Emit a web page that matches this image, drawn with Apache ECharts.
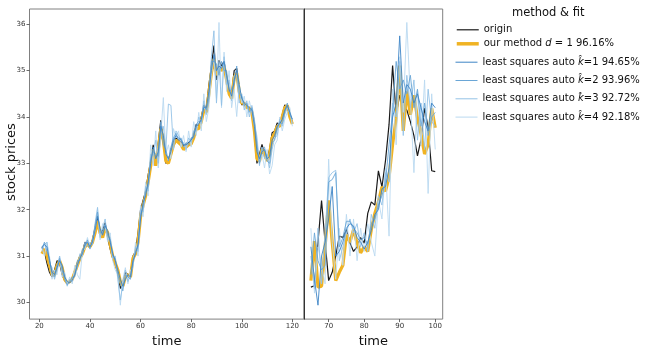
<!DOCTYPE html>
<html>
<head>
<meta charset="utf-8">
<script src="https://cdn.jsdelivr.net/npm/echarts@6/dist/echarts.min.js"></script>
<style>
  html, body { margin: 0; padding: 0; background: #fff; }
  #chart { width: 648px; height: 353px; }
</style>
</head>
<body>
<div id="chart"></div>
<script>
// time starts of the two panels (one value per time step)
const leftStart = 21;
const rightStart = 65;

const xTicksLeft = [20, 40, 60, 80, 100, 120];
const xTicksRight = [70, 80, 90, 100];
const yTicks = [30, 31, 32, 33, 34, 35, 36];

const seriesNames = ['origin', 'our method', 'ls1', 'ls2', 'ls3', 'ls4'];
const legendLabels = [
    'origin',
    'our method {i|d} = 1 96.16%',
    'least squares auto {i|k\u0302}=1 94.65%',
    'least squares auto {i|k\u0302}=2 93.96%',
    'least squares auto {i|k\u0302}=3 92.72%',
    'least squares auto {i|k\u0302}=4 92.18%'
];

// left panel, t = 21..120
const originLeft = [
    31.2, 31.1, 30.85, 30.65, 30.55, 30.7, 30.9, 30.85, 30.6, 30.47,
    30.45, 30.45, 30.5, 30.7, 30.85, 31.0, 31.05, 31.3, 31.25, 31.2,
    31.35, 31.6, 31.87, 31.5, 31.55, 31.72, 31.4, 31.15, 30.95, 30.8,
    30.65, 30.3, 30.45, 30.65, 30.6, 30.6, 31.0, 31.1, 31.5, 32.0,
    32.2, 32.4, 32.75, 33.05, 33.4, 32.95, 33.45, 33.93, 33.5, 33.0,
    33.05, 33.3, 33.45, 33.55, 33.5, 33.45, 33.38, 33.4, 33.45, 33.48,
    33.65, 33.84, 33.8, 34.0, 34.26, 34.2, 34.69, 35.1, 35.54, 34.8,
    35.22, 35.1, 35.2, 34.85, 34.47, 34.5, 35.0, 35.05, 34.6, 34.26,
    34.3, 34.2, 34.19, 34.15, 33.65, 33.0, 33.2, 33.41, 33.2, 33.1,
    33.3, 33.66, 33.7, 33.87, 33.85, 34.05, 34.26, 34.2, 33.98, 33.9
];
const oursLeft = [
    31.05, 31.15, 31.0, 30.8, 30.6, 30.6, 30.8, 30.9, 30.75, 30.5,
    30.42, 30.45, 30.5, 30.65, 30.8, 30.95, 31.05, 31.2, 31.25, 31.2,
    31.3, 31.5, 31.75, 31.5, 31.4, 31.6, 31.5, 31.25, 31.0, 30.85,
    30.7, 30.45, 30.35, 30.55, 30.6, 30.55, 30.95, 31.05, 31.3, 31.85,
    32.1, 32.3, 32.6, 32.95, 33.3, 32.95, 33.3, 33.75, 33.5, 33.05,
    33.0, 33.2, 33.4, 33.5, 33.45, 33.4, 33.3, 33.35, 33.4, 33.42,
    33.55, 33.75, 33.75, 33.9, 34.15, 34.1, 34.5, 34.95, 35.25, 34.9,
    35.05, 35.0, 35.1, 34.8, 34.5, 34.4, 34.85, 34.95, 34.55, 34.3,
    34.3, 34.2, 34.2, 34.1, 33.7, 33.1, 33.05, 33.3, 33.2, 33.05,
    33.2, 33.55, 33.65, 33.8, 33.8, 34.0, 34.2, 34.25, 34.0, 33.85
];
const ls1Left = [
    31.2, 31.25, 31.2, 30.9, 30.65, 30.6, 30.75, 30.9, 30.8, 30.55,
    30.45, 30.42, 30.48, 30.6, 30.8, 30.95, 31.05, 31.25, 31.3, 31.2,
    31.3, 31.55, 31.85, 31.6, 31.45, 31.65, 31.55, 31.3, 31.05, 30.9,
    30.7, 30.5, 30.35, 30.5, 30.6, 30.55, 30.9, 31.05, 31.25, 31.8,
    32.15, 32.3, 32.6, 33.0, 33.35, 33.1, 33.25, 33.8, 33.6, 33.2,
    33.1, 33.25, 33.5, 33.6, 33.55, 33.5, 33.4, 33.4, 33.45, 33.5,
    33.6, 33.8, 33.85, 33.95, 34.2, 34.2, 34.55, 35.0, 35.35, 35.0,
    35.1, 35.05, 35.2, 34.9, 34.6, 34.45, 34.8, 35.0, 34.7, 34.4,
    34.3, 34.25, 34.2, 34.15, 33.8, 33.25, 33.1, 33.25, 33.3, 33.1,
    33.15, 33.5, 33.6, 33.8, 33.85, 33.95, 34.15, 34.25, 34.1, 33.95
];
const ls2Left = [
    31.15, 31.3, 31.1, 30.95, 30.6, 30.55, 30.8, 30.95, 30.7, 30.5,
    30.38, 30.45, 30.55, 30.55, 30.9, 30.9, 31.15, 31.2, 31.35, 31.15,
    31.35, 31.65, 31.95, 31.5, 31.5, 31.7, 31.45, 31.35, 31.0, 30.95,
    30.6, 30.4, 30.25, 30.6, 30.55, 30.5, 30.85, 31.1, 31.2, 31.9,
    32.05, 32.4, 32.5, 33.1, 33.25, 33.2, 33.15, 33.9, 33.4, 33.3,
    33.05, 33.35, 33.55, 33.65, 33.5, 33.55, 33.35, 33.45, 33.4, 33.55,
    33.55, 33.85, 33.9, 33.9, 34.25, 34.15, 34.4, 35.2, 35.2, 35.15,
    34.9, 35.2, 35.0, 35.0, 34.55, 34.6, 34.7, 35.1, 34.5, 34.45,
    34.25, 34.3, 34.1, 34.2, 33.9, 33.4, 33.0, 33.3, 33.35, 33.05,
    33.0, 33.45, 33.5, 33.75, 33.9, 33.85, 34.1, 34.3, 34.05, 33.95
];
const ls3Left = [
    31.1, 31.25, 31.3, 30.85, 30.75, 30.5, 30.7, 31.0, 30.65, 30.6,
    30.35, 30.5, 30.45, 30.65, 30.75, 31.05, 31.0, 31.3, 31.2, 31.3,
    31.25, 31.7, 32.05, 31.4, 31.6, 31.8, 31.35, 31.4, 30.95, 31.0,
    30.5, 30.05, 30.4, 30.7, 30.45, 30.6, 30.8, 31.2, 31.1, 32.0,
    31.95, 32.5, 32.4, 33.2, 33.15, 33.5, 33.0, 33.7, 33.8, 33.3,
    34.28, 34.25, 33.3, 33.7, 33.6, 33.5, 33.45, 33.3, 33.55, 33.45,
    33.7, 33.7, 34.0, 33.85, 34.35, 34.05, 34.35, 35.3, 35.86, 34.3,
    35.2, 34.25, 35.3, 34.7, 34.8, 34.35, 34.9, 34.9, 34.3, 34.5,
    34.15, 34.35, 34.0, 34.25, 33.95, 33.5, 32.95, 33.35, 33.1, 33.2,
    32.9, 33.3, 33.55, 33.6, 33.95, 33.8, 34.05, 34.2, 34.1, 33.85
];
const ls4Left = [
    31.2, 31.0, 31.3, 31.0, 30.5, 30.7, 30.6, 31.0, 30.55, 30.65,
    30.4, 30.55, 30.4, 30.8, 30.6, 30.5, 31.1, 31.15, 31.4, 31.2,
    31.3, 31.55, 32.0, 31.35, 31.7, 31.65, 31.3, 31.5, 30.9, 30.7,
    30.6, 29.94, 30.5, 30.75, 30.4, 30.7, 30.75, 31.3, 31.0, 32.1,
    31.85, 32.6, 32.3, 33.4, 32.95, 33.7, 32.9, 33.6, 34.42, 33.2,
    33.4, 33.1, 33.75, 33.55, 33.7, 33.35, 33.6, 33.25, 33.7, 33.35,
    33.9, 33.6, 34.1, 33.7, 34.5, 33.9, 34.2, 34.9, 35.3, 34.4,
    36.04, 34.2, 35.4, 34.55, 35.0, 34.2, 34.6, 34.01, 34.7, 34.3,
    34.45, 34.0, 34.35, 34.1, 33.8, 33.6, 33.0, 33.2, 32.9, 33.3,
    32.77, 32.95, 33.4, 33.5, 34.0, 33.7, 33.95, 34.1, 34.2, 33.8
];

// right panel, t = 65..100
const originRight = [
    30.33, 30.36, 31.3, 32.2, 31.3, 30.47, 30.65, 31.0, 31.43, 31.4,
    31.57, 31.28, 31.1, 31.2, 31.4, 31.28, 31.92, 32.17, 32.1, 32.84,
    32.49, 33.06, 33.84, 35.11, 34.05, 34.47, 34.26, 34.15, 33.9, 33.6,
    33.16, 33.52, 34.19, 33.77, 32.84, 32.82
];
const oursRight = [
    30.47, 31.32, 30.33, 30.35, 31.2, 32.2, 31.3, 30.47, 30.65, 30.8,
    31.46, 31.3, 31.57, 31.28, 31.07, 31.2, 31.1, 31.57, 31.92, 32.17,
    32.49, 32.4, 32.7, 33.41, 33.97, 35.11, 33.7, 34.55, 34.05, 34.47,
    33.98, 33.63, 33.2, 33.41, 34.19, 33.77
];
const ls1Right = [
    31.2, 30.5, 29.94, 31.0, 31.3, 31.8, 32.5, 31.0, 31.1, 31.3,
    31.6, 31.7, 31.65, 31.4, 31.3, 31.15, 31.3, 31.55, 31.9, 32.0,
    32.45, 32.5, 32.9, 34.0, 34.3, 35.75, 34.3, 34.7, 34.6, 34.3,
    34.5, 34.2, 33.9, 33.7, 34.3, 34.2
];
const ls2Right = [
    30.6, 31.5, 30.9, 30.7, 30.8, 32.6, 32.65, 32.8, 31.2, 31.4,
    31.75, 31.75, 31.6, 31.5, 31.35, 31.4, 31.25, 31.7, 31.8, 32.1,
    32.3, 32.6, 33.4, 34.1, 35.2, 34.6, 34.8, 34.5, 34.9, 34.2,
    34.6, 33.8, 34.3, 33.6, 34.0, 34.1
];
const ls3Right = [
    31.0, 30.3, 31.6, 30.4, 31.5, 32.7, 32.8, 32.85, 30.9, 31.2,
    31.5, 31.8, 31.5, 31.7, 31.2, 31.5, 31.1, 31.9, 31.6, 32.3,
    32.1, 32.8, 32.6, 34.3, 34.0, 35.2, 33.6, 34.9, 34.2, 34.8,
    33.5, 34.3, 33.3, 34.6, 33.9, 33.8
];
const ls4Right = [
    31.6, 30.2, 31.2, 30.8, 30.4, 33.09, 31.3, 30.5, 31.6, 30.8,
    31.9, 31.0, 31.8, 30.9, 31.6, 31.1, 31.7, 31.3, 31.0, 32.2,
    31.8, 32.9, 31.43, 34.6, 33.4, 35.3, 34.1, 36.04, 34.4, 32.8,
    34.6, 33.4, 34.8, 32.35, 34.5, 33.3
];

const leftData = [originLeft, oursLeft, ls1Left, ls2Left, ls3Left, ls4Left];
const rightData = [originRight, oursRight, ls1Right, ls2Right, ls3Right, ls4Right];

const styles = [
    { color: '#1a1a1a', width: 1.2, legendWidth: 1.2, z: 2 },
    { color: '#f0b323', width: 3.2, legendWidth: 3.5, z: 3 },
    { color: '#3d85c6', width: 0.9, legendWidth: 1, z: 7 },
    { color: '#6aa6d6', width: 0.9, legendWidth: 1, z: 6 },
    { color: '#93c2e6', width: 0.9, legendWidth: 1, z: 5 },
    { color: '#bad9f0', width: 0.9, legendWidth: 1, z: 4 }
];

function pairs(start, values) {
    return values.map((v, i) => [start + i, v]);
}

var chart = echarts.init(document.getElementById('chart'));

var series = [];
seriesNames.forEach((name, k) => {
    [[0, leftStart, leftData[k]], [1, rightStart, rightData[k]]].forEach(p => {
        series.push({
            name: name,
            type: 'line',
            xAxisIndex: p[0],
            yAxisIndex: p[0],
            data: pairs(p[1], p[2]),
            showSymbol: false,
            symbol: 'none',
            animation: false,
            z: styles[k].z,
            color: styles[k].color,
            lineStyle: { color: styles[k].color, width: styles[k].width }
        });
    });
});

var font = 'DejaVu Sans';
var tickLabel = { fontSize: 7, color: '#333', fontFamily: font, margin: 4 };
var tick = { show: true, length: 3, lineStyle: { color: '#444', width: 0.8 } };

var legendText = {
    fontSize: 10,
    fontFamily: font,
    color: '#111',
    lineHeight: 14,
    rich: { i: { fontStyle: 'italic', fontSize: 10, fontFamily: font, color: '#111', lineHeight: 14 } }
};
function legendFormatter(name) {
    return legendLabels[seriesNames.indexOf(name)];
}
function legendItems(from, to) {
    return seriesNames.slice(from, to).map((name, i) => ({
        name: name,
        lineStyle: { width: styles[from + i].legendWidth, color: styles[from + i].color }
    }));
}

var option = {
    backgroundColor: '#fff',
    animation: false,
    grid: [
        { left: 29.5, top: 9, width: 274.5, height: 315, show: true, borderColor: '#808080', borderWidth: 1 },
        { left: 304, top: 9, width: 138.7, height: 315, show: true, borderColor: '#808080', borderWidth: 1 }
    ],
    xAxis: [
        {
            type: 'value', gridIndex: 0, min: 16.1, max: 124.6,
            axisLine: { show: false }, splitLine: { show: false },
            axisTick: Object.assign({ customValues: xTicksLeft }, tick),
            axisLabel: Object.assign({ customValues: xTicksLeft }, tickLabel),
            name: 'time', nameLocation: 'middle', nameGap: 11,
            nameTextStyle: { fontSize: 13, fontFamily: font, color: '#111' }
        },
        {
            type: 'value', gridIndex: 1, min: 63.06, max: 102.1,
            axisLine: { show: false }, splitLine: { show: false },
            axisTick: Object.assign({ customValues: xTicksRight }, tick),
            axisLabel: Object.assign({ customValues: xTicksRight }, tickLabel),
            name: 'time', nameLocation: 'middle', nameGap: 11,
            nameTextStyle: { fontSize: 13, fontFamily: font, color: '#111' }
        }
    ],
    yAxis: [
        {
            type: 'value', gridIndex: 0, min: 29.64, max: 36.33,
            axisLine: { show: false }, splitLine: { show: false },
            axisTick: Object.assign({ customValues: yTicks }, tick),
            axisLabel: Object.assign({ customValues: yTicks }, tickLabel)
        },
        {
            type: 'value', gridIndex: 1, min: 29.64, max: 36.33,
            axisLine: { show: true, lineStyle: { color: '#333', width: 1 } },
            splitLine: { show: false }, axisTick: { show: false }, axisLabel: { show: false }
        }
    ],
    legend: [
        {
            orient: 'vertical', left: 455, top: 22.8, padding: 0, itemWidth: 22, itemHeight: 14, itemGap: 0,
            selectedMode: false, data: legendItems(0, 2),
            itemStyle: { opacity: 0 },
            textStyle: legendText, formatter: legendFormatter
        },
        {
            orient: 'vertical', left: 455, top: 55.2, padding: 0, itemWidth: 22, itemHeight: 14, itemGap: 4.3,
            selectedMode: false, data: legendItems(2, 6),
            itemStyle: { opacity: 0 },
            textStyle: legendText, formatter: legendFormatter
        }
    ],
    graphic: [
        {
            type: 'text', left: 512, top: 7,
            style: { text: 'method & fit', fontSize: 11.5, fontFamily: font, fill: '#111' }
        },
        {
            type: 'text', x: 12, y: 162, rotation: Math.PI / 2,
            style: { text: 'stock prices', fontSize: 13, fontFamily: font, fill: '#111', align: 'center', verticalAlign: 'middle' }
        }
    ],
    series: series
};

chart.setOption(option);
</script>
</body>
</html>
